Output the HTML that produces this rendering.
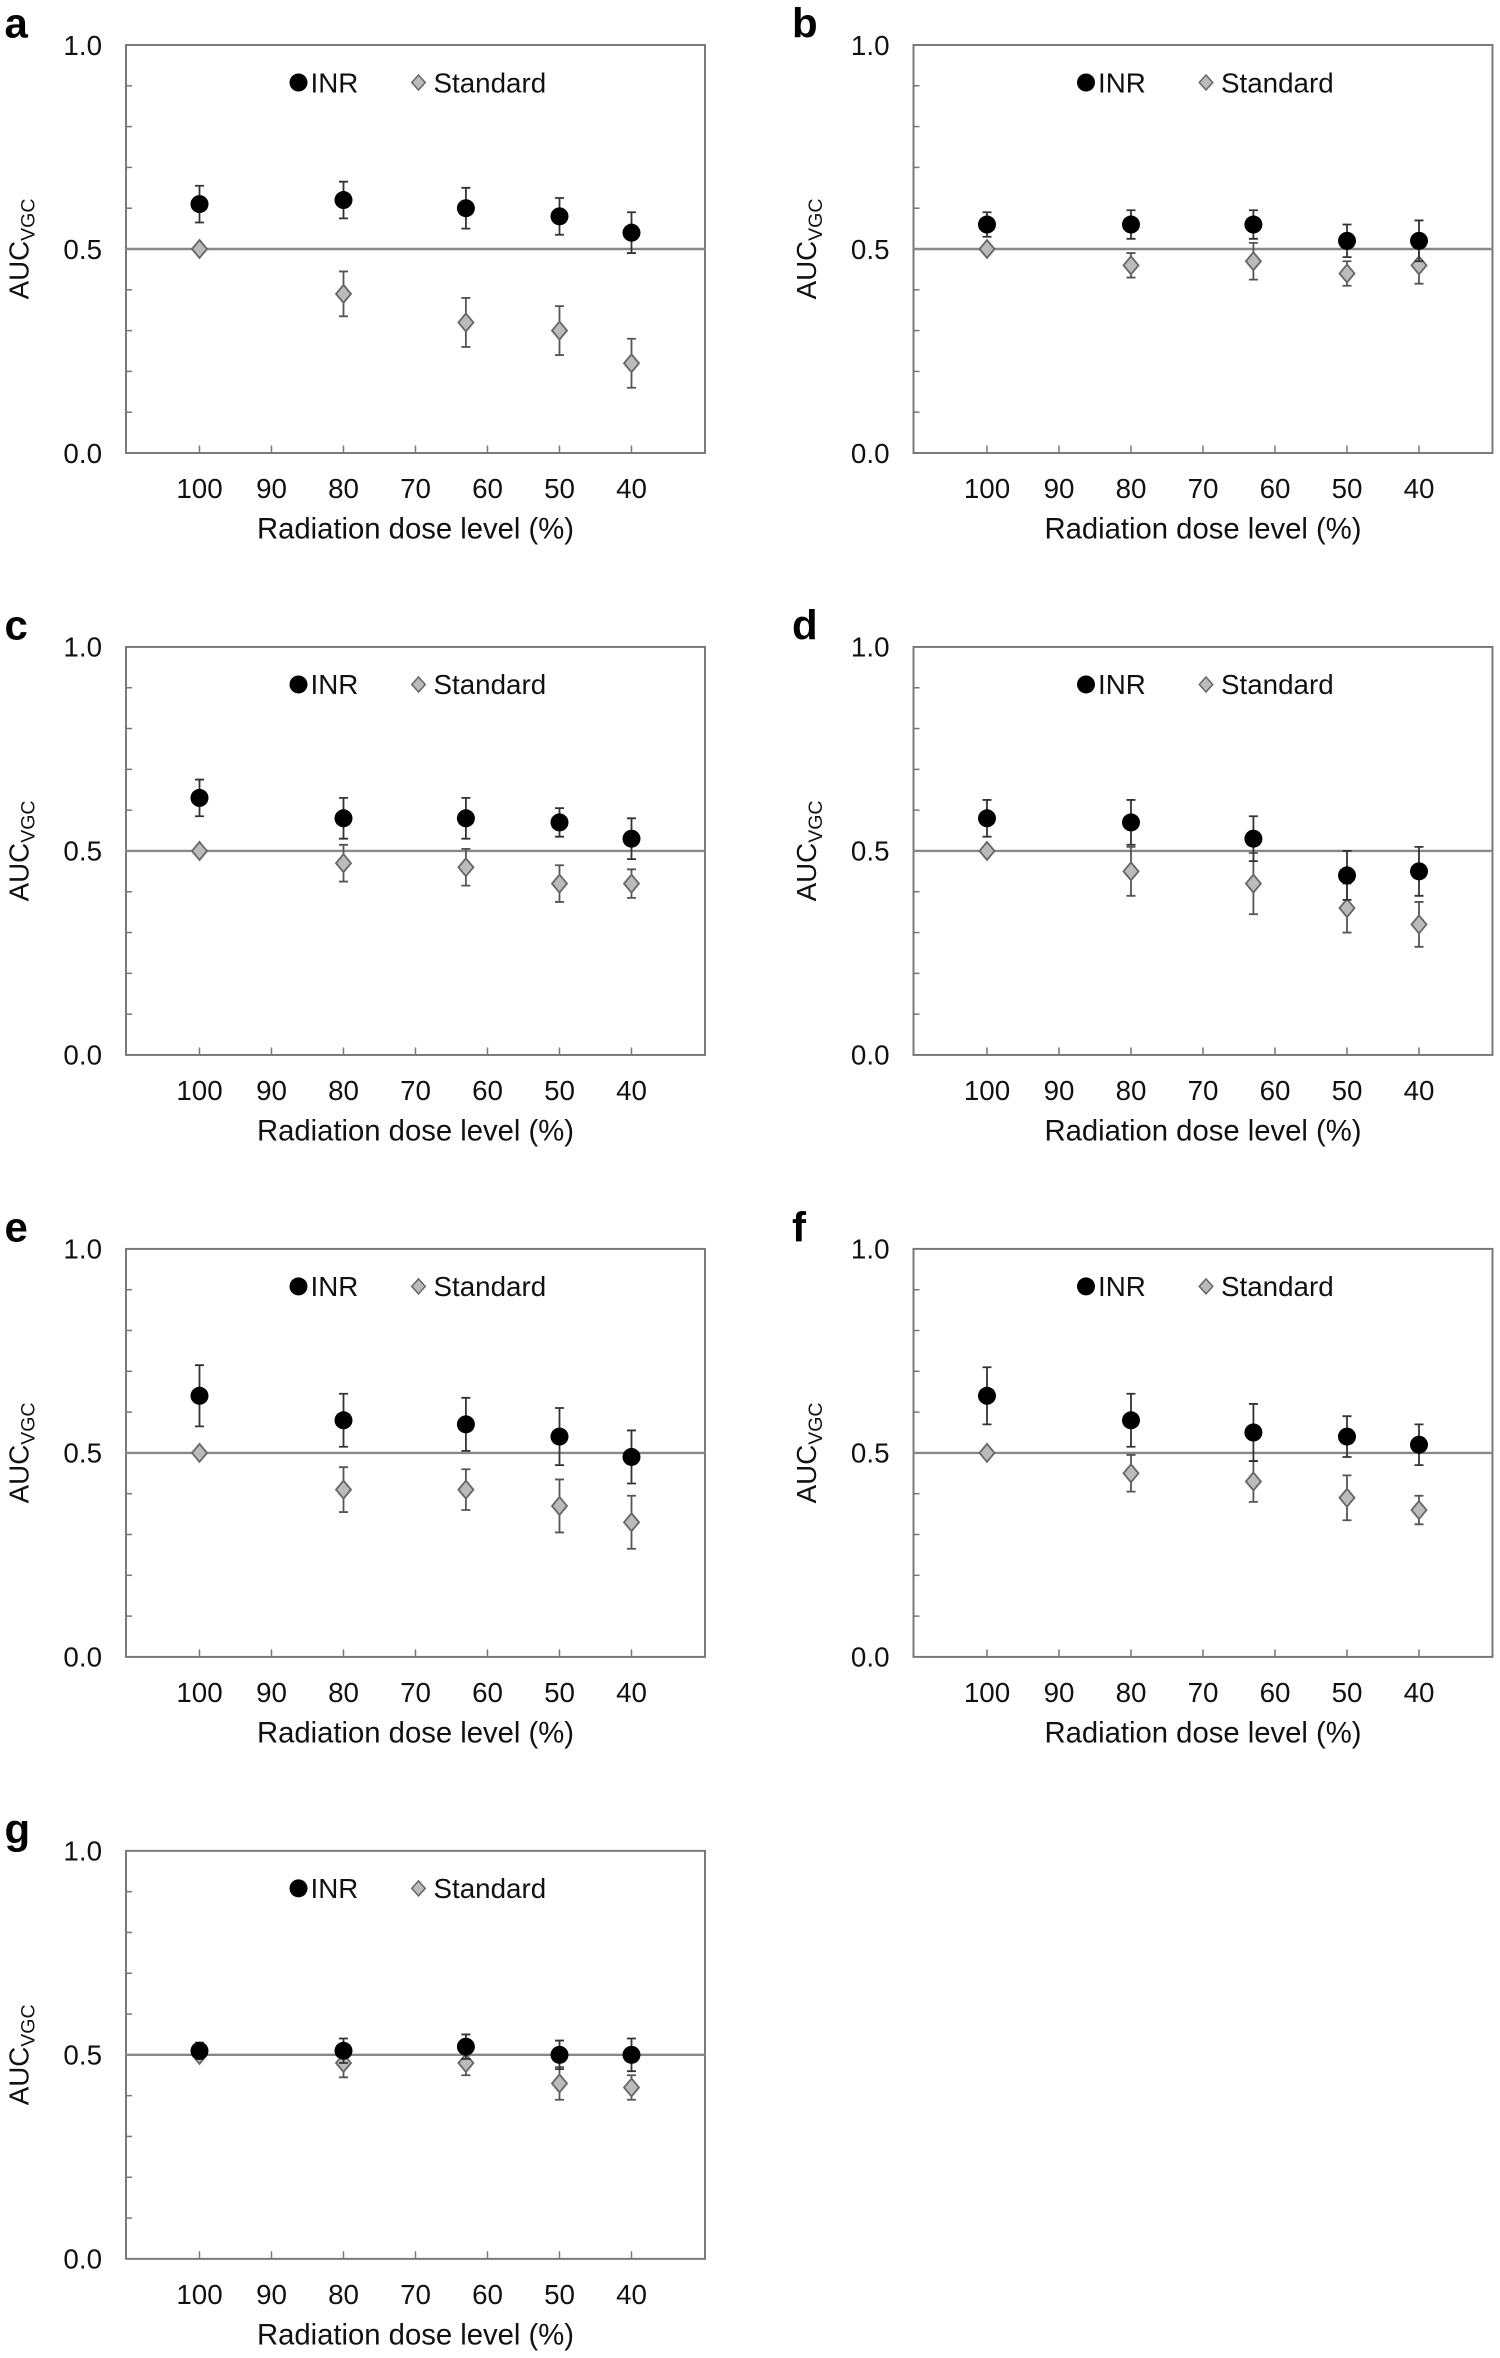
<!DOCTYPE html>
<html><head><meta charset="utf-8"><style>
html,body{margin:0;padding:0;background:#fff;}
svg{display:block;}
text{font-family:"Liberation Sans",Arial,sans-serif;}
</style></head><body>
<svg id="fig" width="1500" height="2358" viewBox="0 0 1000 1572" xmlns="http://www.w3.org/2000/svg"></svg>
<script>
const panelLetters = ["a","b","c","d","e","f","g"];
const doseLevels = [100, 80, 63, 50, 40];
const xTickLabels = [100, 90, 80, 70, 60, 50, 40];
const yTickLabels = ["0.0", "0.5", "1.0"];
const inrMean = [
 [0.61,0.62,0.60,0.58,0.54],[0.56,0.56,0.56,0.52,0.52],[0.63,0.58,0.58,0.57,0.53],
 [0.58,0.57,0.53,0.44,0.45],[0.64,0.58,0.57,0.54,0.49],[0.64,0.58,0.55,0.54,0.52],
 [0.51,0.51,0.52,0.50,0.50]];
const inrErr = [
 [0.045,0.045,0.05,0.045,0.05],[0.03,0.035,0.035,0.04,0.05],[0.045,0.05,0.05,0.035,0.05],
 [0.045,0.055,0.055,0.06,0.06],[0.075,0.065,0.065,0.07,0.065],[0.07,0.065,0.07,0.05,0.05],
 [0.02,0.03,0.03,0.035,0.04]];
const stdMean = [
 [0.50,0.39,0.32,0.30,0.22],[0.50,0.46,0.47,0.44,0.46],[0.50,0.47,0.46,0.42,0.42],
 [0.50,0.45,0.42,0.36,0.32],[0.50,0.41,0.41,0.37,0.33],[0.50,0.45,0.43,0.39,0.36],
 [0.50,0.48,0.48,0.43,0.42]];
const stdErr = [
 [0,0.055,0.06,0.06,0.06],[0,0.03,0.045,0.03,0.045],[0,0.045,0.045,0.045,0.035],
 [0,0.06,0.075,0.06,0.055],[0,0.055,0.05,0.065,0.065],[0,0.045,0.05,0.055,0.035],
 [0,0.035,0.03,0.04,0.03]];

const NS="http://www.w3.org/2000/svg";
const svg=document.getElementById('fig');
function mk(tag,attrs,parent){const e=document.createElementNS(NS,tag);for(const k in attrs)e.setAttribute(k,attrs[k]);(parent||svg).appendChild(e);return e;}

panelLetters.forEach((letter,p)=>{
  const ox=(p%2)*525, oy=Math.floor(p/2)*401.3;
  const L=84+ox, R=470+ox, T=30+oy, B=302+oy;
  const ys=v=>B-v*(B-T);
  const xs=d=>133+ox+(100-d)*4.8;
  const g=mk('g',{});
  
  
  const lt=mk('text',{x:3+ox,y:25+oy,'font-size':28,'font-weight':'bold'},g);lt.textContent=letter;
  
  const box=mk('rect',{x:L,y:T,width:R-L,height:B-T,fill:'none',stroke:'#777','stroke-width':1.3},g);
  
  for(let i=1;i<10;i++){mk('line',{x1:L,x2:L+4,y1:ys(i/10),y2:ys(i/10),stroke:'#777','stroke-width':1},g);}
  yTickLabels.forEach(t=>{const e=mk('text',{x:L-16,y:ys(+t)+6.5,'font-size':18.5,'text-anchor':'end',fill:'#111'},g);e.textContent=t;
    });
  xTickLabels.forEach(t=>{mk('line',{x1:xs(t),x2:xs(t),y1:B,y2:B-5,stroke:'#777','stroke-width':1},g);
    const e=mk('text',{x:xs(t),y:B+30,'font-size':18.5,'text-anchor':'middle',fill:'#111'},g);e.textContent=t;
    });
  const xt=mk('text',{x:(L+R)/2,y:B+57,'font-size':19.5,'text-anchor':'middle',fill:'#111'},g);xt.textContent='Radiation dose level (%)';
  
  const yt=mk('text',{transform:`translate(${19+ox},${ys(0.5)}) rotate(-90)`,'font-size':18.5,'text-anchor':'middle',fill:'#111'},g);
  yt.innerHTML='AUC<tspan font-size="13" dy="4">VGC</tspan>';
  
  const ref=mk('line',{x1:L,x2:R,y1:ys(0.5),y2:ys(0.5),stroke:'#888','stroke-width':1.6},g);
  
  const lg=mk('g',{},g);
  mk('circle',{cx:199+ox,cy:T+25,r:6,fill:'#000'},lg);
  let e=mk('text',{x:207+ox,y:T+31.5,'font-size':18.5,fill:'#111'},lg);e.textContent='INR';
  mk('path',{d:`M${279+ox} ${T+20}l4.5 5l-4.5 5l-4.5-5z`,fill:'#bbb',stroke:'#666','stroke-width':1},lg);
  e=mk('text',{x:289+ox,y:T+31.5,'font-size':18.5,fill:'#111'},lg);e.textContent='Standard';
  doseLevels.forEach((d,i)=>{
    const x=xs(d),m=stdMean[p][i],er=stdErr[p][i];
    if(er>0){mk('path',{d:`M${x} ${ys(m+er)}V${ys(m-er)}M${x-3} ${ys(m+er)}h6M${x-3} ${ys(m-er)}h6`,stroke:'#555','stroke-width':1.2,fill:'none'},g);}
    const s=mk('path',{d:`M${x} ${ys(m)-6}l5 6l-5 6l-5-6z`,fill:'#bbb',stroke:'#666','stroke-width':1.2},g);
    
  });
  doseLevels.forEach((d,i)=>{
    const x=xs(d),m=inrMean[p][i],er=inrErr[p][i];
    mk('path',{d:`M${x} ${ys(m+er)}V${ys(m-er)}M${x-3} ${ys(m+er)}h6M${x-3} ${ys(m-er)}h6`,stroke:'#333','stroke-width':1.2,fill:'none'},g);
    const c=mk('circle',{cx:x,cy:ys(m),r:6,fill:'#000'},g);
    
  });
});
</script>
</body></html>
